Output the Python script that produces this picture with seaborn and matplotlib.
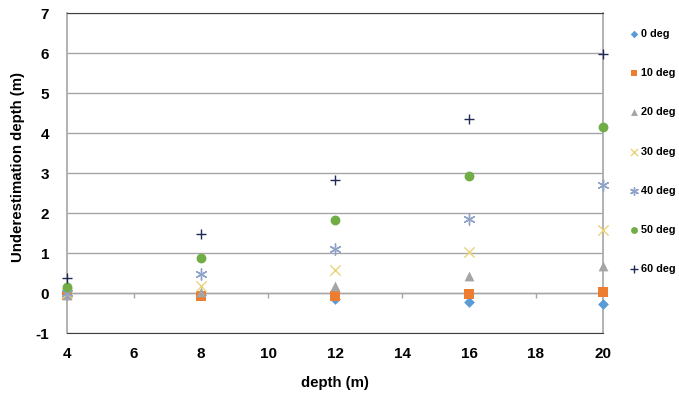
import matplotlib
matplotlib.use("Agg")
import matplotlib.pyplot as plt
import seaborn as sns
import pandas as pd

# depth values (m)
depths = [4, 8, 12, 16, 20]

# underestimation depth (m) per inclination angle
deg_0 = [-0.05, -0.05, -0.14, -0.22, -0.27]
deg_10 = [-0.05, -0.08, -0.08, -0.03, 0.03]
deg_20 = [-0.04, 0.02, 0.18, 0.43, 0.68]
deg_30 = [0.0, 0.18, 0.58, 1.04, 1.57]
deg_40 = [0.0, 0.48, 1.11, 1.85, 2.71]
deg_50 = [0.16, 0.87, 1.82, 2.93, 4.15]
deg_60 = [0.37, 1.47, 2.82, 4.35, 5.98]

labels = ["0 deg", "10 deg", "20 deg", "30 deg", "40 deg", "50 deg", "60 deg"]
series = [deg_0, deg_10, deg_20, deg_30, deg_40, deg_50, deg_60]
colors = ["#5B9BD5", "#ED7D31", "#A5A5A5", "#EBD37A", "#8FA2C8", "#70AD47", "#1F2A55"]
markers = ["D", "s", "^", "x", (6, 2, 0), "o", "+"]
sizes = [30, 45, 50, 55, 65, 50, 55]

df = pd.DataFrame({
    "depth": depths * len(labels),
    "under": [v for s in series for v in s],
    "angle": [lab for lab in labels for _ in depths],
})

sns.set_style("white")
plt.rcParams["font.family"] = ["Liberation Sans", "DejaVu Sans"]
plt.rcParams["font.weight"] = "bold"
plt.rcParams["axes.unicode_minus"] = False
plt.rcParams["text.color"] = "black"
plt.rcParams["axes.labelcolor"] = "black"
plt.rcParams["xtick.color"] = "black"
plt.rcParams["ytick.color"] = "black"

fig = plt.figure(figsize=(6.79, 3.98), dpi=100)
ax = fig.add_axes([0.099, 0.163, 0.789, 0.804])

for lab, col, mk, sz in zip(labels, colors, markers, sizes):
    sub = df[df["angle"] == lab]
    lw = 1.0 if mk in ("x", "+", (6, 2, 0)) else 0
    sns.scatterplot(data=sub, x="depth", y="under", ax=ax, color=col,
                    marker=mk, s=sz, linewidth=lw, edgecolor=col if lw == 0 else None,
                    label=lab, zorder=3, clip_on=False)

ax.set_xlim(4, 20)
ax.set_ylim(-1, 7)
ax.set_xticks(range(4, 21, 2))
ax.set_yticks(range(-1, 8))
ax.yaxis.grid(True, color="#A6A6A6", linewidth=1)
ax.xaxis.grid(False)
ax.axhline(0, color="#A6A6A6", linewidth=1, zorder=1)
# small tick marks on the zero line
ax.vlines(range(4, 21, 2), -0.12, 0, color="#A6A6A6", linewidth=1, zorder=1)

for side in ["left", "right"]:
    ax.spines[side].set_color("#A6A6A6")
    ax.spines[side].set_linewidth(1.2)
ax.spines["top"].set_color("#404040")
ax.spines["bottom"].set_color("#404040")
ax.tick_params(axis="y", length=5, color="#A6A6A6", labelcolor="black", labelsize=11, pad=8)
ax.tick_params(axis="x", length=0, labelcolor="black", labelsize=11, pad=10)

ax.set_xlabel("depth (m)", fontsize=10.8, fontweight="bold", labelpad=11)
ax.set_ylabel("Underestimation depth (m)", fontsize=10.8, fontweight="bold")
ax.yaxis.set_label_coords(-0.078, 0.52)

leg = ax.legend(loc="upper left", bbox_to_anchor=(1.03, 0.985), frameon=False,
                fontsize=7.8, labelspacing=2.7, handletextpad=0.2,
                handlelength=0.8, borderaxespad=0.6, markerscale=0.7)
for t in leg.get_texts():
    t.set_fontweight("bold")

fig.savefig("out.png", dpi=100)
